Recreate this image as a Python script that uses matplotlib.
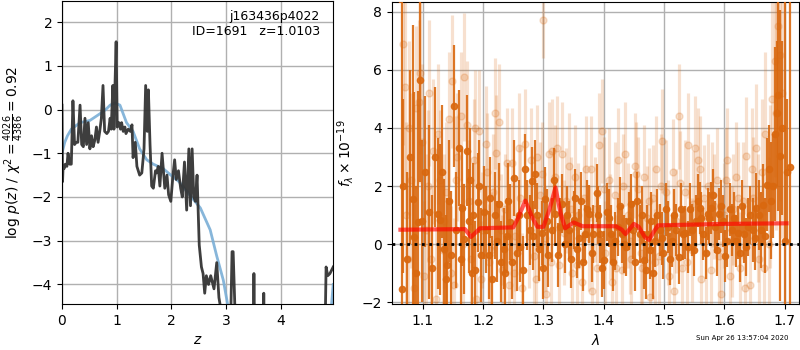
import matplotlib
matplotlib.use('Agg')
import matplotlib.pyplot as plt

# left panel: log p(z) (black, noisy) and smooth chi2 curve (blue)
z_pz = [0.0, 0.01, 0.02, 0.04, 0.06, 0.09, 0.11, 0.14, 0.17, 0.20, 0.23, 0.26, 0.29, 0.33,
        0.36, 0.39, 0.42, 0.45, 0.48, 0.51, 0.54, 0.57, 0.60, 0.63, 0.66, 0.69, 0.72, 0.75,
        0.78, 0.82, 0.85, 0.88, 0.90, 0.93, 0.95, 0.97, 0.99, 1.01, 1.04, 1.07, 1.09, 1.12,
        1.15, 1.17, 1.21, 1.25, 1.28, 1.30, 1.34, 1.37, 1.42, 1.46, 1.50, 1.53, 1.56, 1.58,
        1.61, 1.64, 1.67, 1.71, 1.73, 1.76, 1.79, 1.83, 1.88, 1.92, 1.95, 1.99, 2.03, 2.06,
        2.09, 2.13, 2.17, 2.20, 2.24, 2.28, 2.32, 2.35, 2.38, 2.41, 2.44, 2.47, 2.51, 2.55,
        2.58, 2.61, 2.64, 2.68, 2.72, 2.78, 2.83, 2.87, 2.91, 2.96, 3.05, 3.09, 3.11, 3.13,
        3.16, 3.20, 3.30, 3.49, 3.51, 3.53, 3.55, 3.67, 3.69, 3.71, 3.73, 4.80, 4.83, 4.86,
        4.90, 4.96]
logpz = [0.10, -1.65, -1.3, -1.35, -1.25, -1.3, -1.0, -1.25, -1.25, 0.2, -0.8, -0.75, -0.75, 0.1,
         -0.8, -0.85, -0.2, -0.8, -0.3, -0.9, -0.6, -0.85, -0.7, -0.4, -0.75, -0.5, -0.2, 0.55,
         -0.5, -0.55, -0.5, -0.2, -0.45, 0.55, -0.45, 0.6, 1.55, -0.4, -0.3, -0.45, -0.3, -0.5,
         -0.4, -0.55, -0.45, -0.5, -0.35, -1.1, -0.75, -1.3, -1.5, -1.45, -0.9, 0.55, -0.5, 0.45,
         -0.8, -1.75, -1.8, -1.4, -1.45, -1.3, -1.75, -1.0, -1.8, -1.5, -1.95, -2.1, -1.5, -1.15,
         -1.6, -1.4, -1.8, -2.0, -1.2, -2.3, -0.9, -2.2, -0.9, -2.0, -2.1, -1.5, -3.1, -3.6,
         -3.75, -4.2, -3.8, -4.0, -3.8, -4.1, -3.5, -4.3, -4.6, -5.5, -5.5, -4.5, -3.25, -3.25,
         -4.45, -5.5, -6.0, -6.0, -3.75, -6.0, -6.0, -6.0, -4.2, -6.0, -6.0, -6.0, -3.6, -3.8,
         -3.75, -3.6]

z_chi = [0.0, 0.05, 0.10, 0.17, 0.33, 0.51, 0.69, 0.80, 0.88, 0.97, 1.06, 1.18, 1.30, 1.42,
         1.55, 1.67, 1.85, 1.99, 2.14, 2.30, 2.53, 2.71, 2.83, 2.95, 3.05, 3.20, 4.00, 4.85,
         4.93, 4.96]
chi_curve = [-1.0, -0.75, -0.6, -0.45, -0.3, -0.25, -0.1, 0.0, 0.1, 0.15, 0.1, -0.3, -0.5, -0.9,
             -1.15, -1.25, -1.35, -1.5, -1.65, -1.9, -2.25, -2.75, -3.35, -3.9, -4.6, -6.0, -7.0,
             -6.0, -4.45, -4.0]

# right panel: spectrum, dark points (lam, flux, err)
lam_a = [1.063, 1.065, 1.0835, 1.086, 1.092, 1.096, 1.110, 1.125, 1.129, 1.135, 1.141, 1.147,
         1.151, 1.160, 1.165, 1.169, 1.173, 1.178, 1.183, 1.187, 1.191, 1.197, 1.201, 1.209,
         1.215, 1.219, 1.223, 1.229, 1.234, 1.239, 1.245, 1.251, 1.256, 1.262, 1.266, 1.273,
         1.277, 1.281, 1.286, 1.292, 1.297, 1.303, 1.308, 1.314, 1.320, 1.325, 1.331, 1.336,
         1.342, 1.350, 1.356, 1.362, 1.369, 1.376, 1.383, 1.388, 1.394, 1.400, 1.405, 1.412,
         1.419, 1.424, 1.430, 1.437, 1.442, 1.449, 1.455, 1.460, 1.467, 1.472, 1.479, 1.485,
         1.493, 1.499, 1.507, 1.513, 1.520, 1.525, 1.532, 1.539, 1.546, 1.553, 1.559, 1.565,
         1.572, 1.577, 1.584, 1.591, 1.598, 1.605, 1.612, 1.619, 1.626, 1.632, 1.639, 1.647,
         1.653, 1.660, 1.664, 1.671, 1.678, 1.684, 1.689, 1.693, 1.700, 1.708]
flux_a = [9.5, -1.55, 1.55, 0.24, 0.77, 5.65, 1.1, 1.05, 0.85, -0.15, -0.72, -0.37,
          4.75, 3.32, 1.26, 0.18, 3.22, 2.2, 1.0, -0.9, 1.45, -0.37, 1.1, -0.37,
          -1.2, 1.0, 0.1, -0.6, -0.15, 0.3, 0.77, 2.27, -0.3, -0.1, -0.9, 1.0,
          0.5, 2.16, 2.4, -0.15, 0.4, 1.56, -0.37, 0.5, 1.05, -0.37, 1.4, 0.0,
          0.5, 0.83, -0.15, 1.5, 0.35, 1.05, 0.35, 1.75, 0.35, -0.55, 1.1, 0.35,
          0.12, 0.6, 0.35, -0.1, 0.8, 0.5, 1.5, 0.35, -0.55, 0.35, 0.8, 0.12,
          0.5, -0.3, 0.6, 0.12, 0.5, -0.45, 0.35, -0.1, 0.5, 0.8, 1.25, 0.35,
          1.05, 1.25, 0.6, 1.05, 0.8, 0.12, 0.5, 0.12, -0.3, 0.35, 0.6, 0.5,
          1.25, 0.5, 1.36, 2.05, 1.5, 3.8, 5.15, 3.05, 0.1, 2.65]
err_a = [1.2, 12.0, 6.0, 5.0, 4.5, 3.5, 3.0, 2.6, 2.6, 2.4, 2.3, 2.2,
         2.1, 2.0, 2.0, 1.9, 1.9, 1.8, 1.8, 1.7, 1.7, 1.6, 1.6, 1.5,
         1.5, 1.5, 1.4, 1.4, 1.4, 1.3, 1.3, 1.3, 1.3, 1.2, 1.2, 1.2,
         1.2, 1.2, 1.2, 1.1, 1.1, 1.1, 1.1, 1.1, 1.1, 1.1, 1.0, 1.0,
         1.0, 1.0, 1.0, 1.0, 1.0, 1.0, 1.0, 1.0, 1.0, 1.0, 1.0, 1.0,
         1.0, 1.0, 1.0, 1.0, 1.0, 1.0, 1.0, 1.0, 1.0, 1.0, 1.0, 0.9,
         0.9, 0.9, 0.9, 0.9, 0.9, 0.9, 0.9, 0.9, 0.9, 0.9, 0.9, 0.9,
         0.9, 0.9, 0.9, 0.9, 0.9, 0.9, 0.9, 0.9, 1.0, 1.0, 1.0, 1.1,
         1.2, 1.3, 1.4, 1.6, 2.0, 3.0, 4.0, 5.0, 12.0, 12.0]

# more dark points, interleaved with the ones above
lam_a2 = [1.068, 1.074, 1.079, 1.089, 1.099, 1.104, 1.115, 1.120, 1.132, 1.138, 1.144, 1.155,
          1.163, 1.176, 1.181, 1.194, 1.205, 1.212, 1.226, 1.237, 1.242, 1.248, 1.259, 1.269,
          1.283, 1.289, 1.300, 1.306, 1.317, 1.328, 1.339, 1.346, 1.353, 1.359, 1.366, 1.372,
          1.380, 1.391, 1.397, 1.409, 1.416, 1.427, 1.434, 1.445, 1.452, 1.463, 1.470, 1.476,
          1.482, 1.489, 1.496, 1.503, 1.510, 1.517, 1.528, 1.535, 1.543, 1.550, 1.556, 1.562,
          1.569, 1.575, 1.581, 1.588, 1.595, 1.601, 1.609, 1.616, 1.623, 1.629, 1.636, 1.643,
          1.650, 1.657, 1.667, 1.674, 1.681, 1.687, 1.696, 1.703]
flux_a2 = [2.0, -0.5, 3.0, -1.0, 0.8, 2.5, -0.8, 3.0, 2.5, -1.2, 1.5, 0.5,
           -0.5, 0.8, -1.0, 2.0, 0.5, 1.6, 1.4, -1.0, 1.5, -0.6, 1.0, 2.6,
           0.3, 1.0, -0.8, 0.8, 2.2, 0.6, 1.0, -0.5, 1.6, 0.2, -0.6, 1.2,
           -0.3, 1.0, -0.8, 0.9, -0.6, 1.3, 0.0, 1.4, -0.6, 1.0, -0.9, -0.2,
           -1.0, 1.0, 0.2, 1.2, -0.5, 1.0, 1.2, 0.4, 1.2, -0.2, 1.5, 0.9,
           -0.3, 0.9, 1.7, -0.2, 1.3, -0.4, 1.2, 0.9, 0.4, 1.3, -0.1, 1.0,
           0.2, 1.0, 0.3, 2.6, 2.0, 4.5, 4.0, 2.5]
err_a2 = [3.0, 3.0, 3.0, 3.0, 2.8, 2.6, 2.5, 2.4, 2.3, 2.2, 2.1, 2.0,
          1.9, 1.8, 1.7, 1.6, 1.5, 1.4, 1.4, 1.3, 1.3, 1.3, 1.2, 1.2,
          1.2, 1.1, 1.1, 1.1, 1.1, 1.0, 1.0, 1.0, 1.0, 1.0, 1.0, 1.0,
          1.0, 1.0, 1.0, 1.0, 1.0, 1.0, 1.0, 1.0, 1.0, 1.0, 1.0, 1.0,
          0.9, 0.9, 0.9, 0.9, 0.9, 0.9, 0.9, 0.9, 0.9, 0.9, 0.9, 0.9,
          0.9, 0.9, 0.9, 0.9, 0.9, 0.9, 0.9, 0.9, 0.9, 0.9, 1.0, 1.0,
          1.1, 1.2, 1.3, 1.5, 1.8, 2.5, 3.0, 2.5]

# light points (second spectrum)
lam_b = [1.067, 1.070, 1.075, 1.080, 1.089, 1.093, 1.095, 1.102, 1.108, 1.111, 1.117, 1.122,
         1.128, 1.133, 1.138, 1.143, 1.148, 1.152, 1.157, 1.163, 1.168, 1.174, 1.180, 1.185,
         1.189, 1.193, 1.199, 1.204, 1.210, 1.216, 1.222, 1.226, 1.232, 1.237, 1.243, 1.248,
         1.253, 1.259, 1.264, 1.270, 1.279, 1.284, 1.289, 1.294, 1.300, 1.305, 1.310, 1.315,
         1.320, 1.326, 1.331, 1.337, 1.342, 1.348, 1.353, 1.358, 1.364, 1.370, 1.376, 1.381,
         1.386, 1.392, 1.397, 1.402, 1.408, 1.413, 1.419, 1.424, 1.430, 1.435, 1.440, 1.446,
         1.451, 1.456, 1.461, 1.467, 1.472, 1.477, 1.482, 1.487, 1.492, 1.497, 1.503, 1.508,
         1.514, 1.519, 1.524, 1.530, 1.535, 1.540, 1.546, 1.551, 1.556, 1.561, 1.566, 1.572,
         1.577, 1.583, 1.588, 1.594, 1.599, 1.604, 1.610, 1.615, 1.620, 1.626, 1.631, 1.636,
         1.642, 1.647, 1.652, 1.658, 1.663, 1.668, 1.674, 1.679, 1.684, 1.689, 1.695]
flux_b = [6.9, 5.4, -0.5, 2.2, 4.7, 4.9, 5.9, -1.1, 2.0, 5.2, 3.2, -1.9,
          2.2, -0.2, 1.8, 4.3, 5.6, -1.4, 3.0, 4.4, 5.75, 4.1, -0.5, 2.9,
          -1.9, 3.9, 0.5, 3.45, -0.6, 1.8, 3.15, 4.2, -0.9, 1.2, -1.4, 2.8,
          0.3, 3.3, -1.5, 3.45, 2.9, -0.4, 3.0, 1.7, 7.7, -1.7, 3.1, 3.2,
          2.3, -0.7, 3.1, 1.5, 2.7, -1.0, 2.3, 1.0, -1.3, 2.6, 0.2, -1.6,
          1.2, 3.4, 3.9, -0.3, 2.2, -1.3, 1.7, 2.9, -0.9, 3.1, 1.0, -0.5,
          2.7, 1.9, -0.3, 2.3, 0.9, -1.8, 1.6, 2.6, -0.4, 3.55, 1.8, -1.1,
          2.5, 0.8, 4.4, -0.8, 1.8, 3.4, -0.2, 3.3, 2.9, -1.2, 1.6, 2.0,
          -0.9, 1.3, 2.2, -1.7, 1.0, 2.9, -1.1, 1.2, 2.3, -0.8, 1.5, 3.05,
          -1.4, 1.6, 3.3, -0.5, 2.5, 3.8, 0.0, 5.0, 6.3, 7.5, 5.2]
err_b = [3.5, 3.5, 3.0, 3.0, 2.8, 2.8, 2.8, 2.6, 2.6, 2.5, 2.5, 2.5,
         2.4, 2.4, 2.4, 2.3, 2.3, 2.3, 2.2, 2.2, 2.2, 2.2, 2.1, 2.1,
         2.1, 2.1, 2.0, 2.0, 2.0, 2.0, 2.0, 2.0, 1.9, 1.9, 1.9, 1.9,
         1.9, 1.9, 1.9, 1.9, 1.8, 1.8, 1.8, 1.8, 1.3, 1.8, 1.8, 1.8,
         1.8, 1.8, 1.8, 1.8, 1.8, 1.8, 1.8, 1.8, 1.8, 1.8, 1.8, 1.8,
         1.8, 1.8, 1.8, 1.8, 1.8, 1.8, 1.8, 1.8, 1.8, 1.8, 1.8, 1.8,
         1.8, 1.8, 1.8, 1.8, 1.8, 1.8, 1.8, 1.8, 1.8, 1.8, 1.8, 1.8,
         1.8, 1.8, 1.8, 1.8, 1.8, 1.8, 1.8, 1.8, 1.8, 1.8, 1.8, 1.8,
         1.8, 1.8, 1.8, 1.8, 1.8, 1.8, 1.8, 1.9, 1.9, 1.9, 2.0, 2.0,
         2.0, 2.1, 2.2, 2.3, 2.5, 2.8, 3.0, 3.5, 4.0, 4.5, 5.0]

lam_b2 = [1.072, 1.078, 1.085, 1.098, 1.105, 1.114, 1.125, 1.136, 1.146, 1.155, 1.166, 1.177,
          1.187, 1.196, 1.207, 1.213, 1.219, 1.229, 1.240, 1.251, 1.262, 1.276, 1.287, 1.297,
          1.303, 1.313, 1.323, 1.334, 1.345, 1.356, 1.367, 1.379, 1.389, 1.400, 1.411, 1.421,
          1.432, 1.443, 1.454, 1.464, 1.475, 1.485, 1.495, 1.506, 1.516, 1.527, 1.538, 1.548,
          1.559, 1.570, 1.580, 1.591, 1.602, 1.612, 1.623, 1.634, 1.645, 1.655, 1.665, 1.676,
          1.686, 1.692]
flux_b2 = [1.0, 4.0, -1.5, 3.5, 0.5, -0.5, 3.8, 0.8, -1.0, 2.2, 0.0, 1.5,
           4.0, -1.2, 2.5, -0.2, 4.5, 0.5, 2.8, -1.0, 1.6, 0.3, -1.2, 2.4,
           0.2, -0.6, 3.3, 0.4, 1.2, -0.7, 1.6, 2.6, -0.8, 1.9, 0.6, -0.8,
           2.0, 0.1, 2.4, -0.8, 1.5, -0.6, 2.0, 0.4, -1.6, 2.1, -0.6, 1.4,
           2.6, -0.3, 1.7, -0.4, 2.2, 0.1, 1.6, -1.5, 2.6, 0.9, -0.8, 2.0,
           4.5, 6.5]
err_b2 = [3.2, 3.0, 2.9, 2.7, 2.6, 2.5, 2.4, 2.3, 2.3, 2.2, 2.1, 2.1,
          2.0, 2.0, 2.0, 2.0, 1.9, 1.9, 1.9, 1.9, 1.8, 1.8, 1.8, 1.8,
          1.8, 1.8, 1.8, 1.8, 1.8, 1.8, 1.8, 1.8, 1.8, 1.8, 1.8, 1.8,
          1.8, 1.8, 1.8, 1.8, 1.8, 1.8, 1.8, 1.8, 1.8, 1.8, 1.8, 1.8,
          1.8, 1.8, 1.8, 1.8, 1.8, 1.9, 1.9, 2.0, 2.1, 2.2, 2.4, 2.8,
          4.0, 5.0]

# best-fit model
lam_model = [1.063, 1.170, 1.180, 1.195, 1.250, 1.258, 1.270, 1.282, 1.290, 1.300, 1.310,
             1.320, 1.328, 1.336, 1.350, 1.365, 1.420, 1.430, 1.436, 1.442, 1.450, 1.458,
             1.468, 1.475, 1.482, 1.490, 1.600, 1.703]
flux_model = [0.5, 0.52, 0.25, 0.55, 0.58, 0.9, 1.5, 0.9, 0.6, 0.6, 1.2,
              1.95, 1.1, 0.55, 0.75, 0.62, 0.62, 0.5, 0.35, 0.5, 0.7, 0.6,
              0.25, 0.15, 0.4, 0.65, 0.7, 0.72]

orange = '#d9680f'

fig = plt.figure(figsize=(8, 3.5), dpi=100)
ax1 = fig.add_axes([0.0775, 0.131, 0.339, 0.866])
ax2 = fig.add_axes([0.49, 0.131, 0.509, 0.864])

ax1.plot(z_chi, chi_curve, color='#7aaed6', lw=2, alpha=0.9)
ax1.plot(z_pz, logpz, color='#333333', lw=2, alpha=0.95)
ax1.set_xlim(0, 4.96)
ax1.set_ylim(-4.45, 2.48)
ax1.set_xticks([0, 1, 2, 3, 4])
ax1.set_yticks([-4, -3, -2, -1, 0, 1, 2])
ax1.grid(True, color='#b0b0b0', lw=1)
ax1.set_axisbelow(True)
ax1.set_xlabel('$z$')
ax1.set_ylabel(r'$\log\, p(z)$ / $\chi^2=\frac{4026}{4386}=0.92$')
ax1.text(0.95, 0.97, 'j163436p4022\nID=1691   z=1.0103', transform=ax1.transAxes,
         ha='right', va='top', fontsize=9, linespacing=1.2)

for lam, flux, err in [(lam_b, flux_b, err_b), (lam_b2, flux_b2, err_b2)]:
    ax2.errorbar(lam, flux, yerr=err, fmt='o', color=orange, alpha=0.2,
                 ms=5, elinewidth=2.3, capsize=0, zorder=2)
for lam, flux, err in [(lam_a, flux_a, err_a), (lam_a2, flux_a2, err_a2)]:
    ax2.errorbar(lam, flux, yerr=err, fmt='o', color=orange, alpha=0.9,
                 ms=4.5, elinewidth=1.6, capsize=0, zorder=3)
ax2.plot(lam_model, flux_model, color='red', lw=3, alpha=0.65, zorder=4)
ax2.axhline(0, color='k', ls=':', lw=2, zorder=5)
ax2.set_xlim(1.049, 1.724)
ax2.set_ylim(-2.06, 8.34)
ax2.set_xticks([1.1, 1.2, 1.3, 1.4, 1.5, 1.6, 1.7])
ax2.set_yticks([-2, 0, 2, 4, 6, 8])
ax2.grid(True, color='#b0b0b0', lw=1)
ax2.set_axisbelow(True)
ax2.set_xlabel(r'$\lambda$')
ax2.set_ylabel(r'$f_\lambda \times 10^{-19}$')

fig.text(0.985, 0.025, 'Sun Apr 26 13:57:04 2020', ha='right', va='bottom', fontsize=5)

fig.savefig('out.png', dpi=100)
